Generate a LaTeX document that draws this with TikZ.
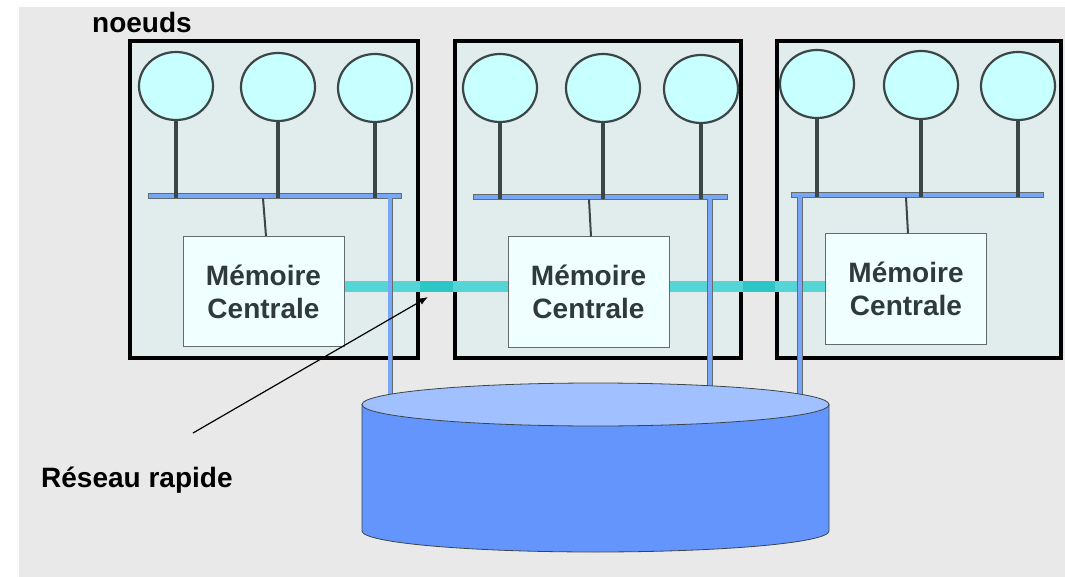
\documentclass[tikz,border=0pt]{standalone}
\usepackage{fontspec}
\setsansfont{Liberation Sans}
\usepackage{tikz}
\usetikzlibrary{arrows.meta, positioning, shapes.geometric, calc}
\usepackage{xcolor}
\definecolor{bggray}{RGB}{233,233,233}
\definecolor{nodefill}{RGB}{225,236,236}
\definecolor{cpufill}{RGB}{200,255,255}
\definecolor{memfill}{RGB}{240,255,255}
\definecolor{busblue}{RGB}{120,166,248}
\definecolor{linkteal}{RGB}{85,213,213}
\definecolor{linkdark}{RGB}{44,198,198}
\definecolor{disktop}{RGB}{160,192,255}
\definecolor{diskbody}{RGB}{100,149,253}
\definecolor{edgegray}{RGB}{60,70,70}
\definecolor{textgray}{RGB}{48,58,58}
\tikzset{
    % Machines
    nodebox/.style={rectangle, draw=black, line width=4.5pt, fill=nodefill,
                minimum width=#1, minimum height=317pt, inner sep=0pt},
    cpu/.style={ellipse, draw=edgegray, line width=2.2pt, fill=cpufill,
                minimum width=74pt, minimum height=68pt, inner sep=0pt},
    stem/.style={edgegray, line width=3.2pt},
    bus/.style={rectangle, draw=edgegray!80, line width=0.8pt, fill=busblue,
                minimum width=#1, minimum height=5pt, inner sep=0pt},
    tap/.style={edgegray, line width=2pt},
    membox/.style={rectangle, draw=edgegray!80, line width=1pt, fill=memfill,
                minimum width=161pt, minimum height=110pt, align=center, text=textgray,
                font=\sffamily\bfseries\fontsize{28}{33}\selectfont},
    % Fast network
    link/.style={draw=edgegray!80, line width=0.9pt, double=linkteal, double distance=10pt},
    linkgap/.style={link, double=linkdark},
    % Shared disk
    vbus/.style={draw=edgegray!80, line width=0.8pt, double=busblue, double distance=4pt},
    diskside/.style={draw=edgegray, line width=0.8pt, fill=diskbody},
    diskcap/.style={draw=edgegray, line width=0.8pt, fill=disktop},
    % Labels
    lbl/.style={inner sep=0pt, font=\sffamily\bfseries\fontsize{28}{33}\selectfont},
    pointer/.style={-{Latex[length=9pt,width=7pt]}, line width=1.2pt, black},
}

\begin{document}
\begin{tikzpicture}[x=1pt, y=-1pt]
\useasboundingbox (0,0) rectangle (1065,577);
\fill[white] (0,0) rectangle (1065,577);
\fill[bggray] (19,7) rectangle (1065,577);

\node[nodebox=288pt] (box1) at (274,199.5) {};
\node[nodebox=286pt] (box2) at (598,199.5) {};
\node[nodebox=284pt] (box3) at (919,199.5) {};

\node[bus=253pt] (bus1) at (274.5,195.5) {};
\node[bus=254pt] (bus2) at (600,196.5) {};
\node[bus=252pt] (bus3) at (917,194.5) {};

\node[cpu] (c11) at (176,86) {};
\node[cpu] (c12) at (278,87) {};
\node[cpu] (c13) at (375,88) {};
\node[cpu] (c21) at (500,88) {};
\node[cpu] (c22) at (603,88) {};
\node[cpu] (c23) at (701,89) {};
\node[cpu] (c31) at (817,84) {};
\node[cpu] (c32) at (921,85) {};
\node[cpu] (c33) at (1018,86) {};

\draw[stem] (c11.south) -- (c11.south |- bus1.south);
\draw[stem] (c12.south) -- (c12.south |- bus1.south);
\draw[stem] (c13.south) -- (c13.south |- bus1.south);
\draw[stem] (c21.south) -- (c21.south |- bus2.south);
\draw[stem] (c22.south) -- (c22.south |- bus2.south);
\draw[stem] (c23.south) -- (c23.south |- bus2.south);
\draw[stem] (c31.south) -- (c31.south |- bus3.south);
\draw[stem] (c32.south) -- (c32.south |- bus3.south);
\draw[stem] (c33.south) -- (c33.south |- bus3.south);

\node[membox] (mem1) at (263.5,291.5) {Mémoire\\Centrale};
\node[membox] (mem3) at (906,289) {Mémoire\\Centrale};

% fast network between the memories
\coordinate (lnk) at ([yshift=5pt]mem1.east);
\draw[link] (lnk) -- (lnk -| mem3.west);
\draw[linkgap] (lnk -| box1.east) -- (lnk -| box2.west);
\draw[linkgap] (lnk -| box2.east) -- (lnk -| box3.west);

\node[membox] (mem2) at (588.5,292) {Mémoire\\Centrale};

\draw[tap] ([xshift=-11.5pt]bus1.south) -- ([xshift=2.5pt]mem1.north);
\draw[tap] ([xshift=-11pt]bus2.south) -- ([xshift=2.5pt]mem2.north);
\draw[tap] ([xshift=-11pt]bus3.south) -- ([xshift=2pt]mem3.north);

% shared disk
\coordinate (disk) at (595.5,404.5);
\coordinate (v1) at ([xshift=-11pt]bus1.south east);
\coordinate (v2) at ([xshift=-17.5pt]bus2.south east);
\coordinate (v3) at ([xshift=9.5pt]bus3.south west);
\draw[vbus] (v1) -- (v1 |- disk);
\draw[vbus] (v2) -- (v2 |- disk);
\draw[vbus] (v3) -- (v3 |- disk);

\filldraw[diskside] ($(disk)+(-233.5,0)$) -- ($(disk)+(-233.5,126.5)$)
    arc[start angle=180, end angle=360, x radius=233.5pt, y radius=21pt]
    -- ($(disk)+(233.5,0)$) -- cycle;
\filldraw[diskcap] (disk) ellipse[x radius=233.5pt, y radius=21.5pt];

\node[lbl, anchor=base west] (noeuds) at (92,33) {noeuds};
\node[lbl, anchor=base west] (reseau) at (41,487) {Réseau rapide};

\coordinate (ptr) at (193,433);
\coordinate (tip) at (428,297);
\draw[pointer] (ptr) -- (tip);
\end{tikzpicture}
\end{document}
